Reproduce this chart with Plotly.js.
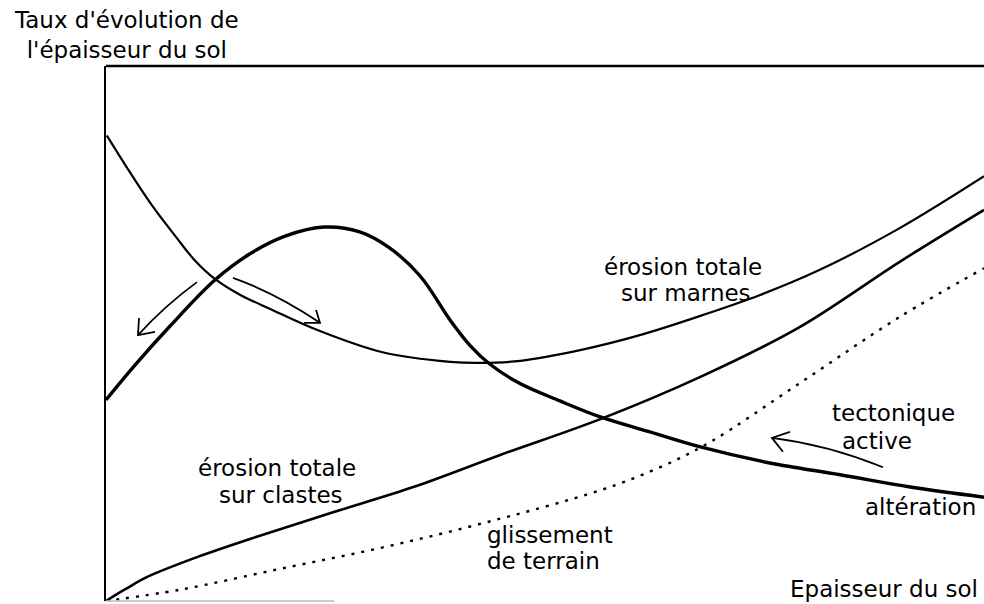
<!DOCTYPE html>
<html>
<head>
<meta charset="utf-8">
<script src="https://cdn.plot.ly/plotly-3.0.1.min.js"></script>
<style>
html,body{margin:0;padding:0;background:#fff;}
#chart{width:984px;height:604px;}
</style>
</head>
<body>
<div id="chart"></div>
<script>
// Épaisseur du sol (unités relatives 0-100) et taux d'évolution (unités relatives 0-100)
const marnesX = [0.1, 2.7, 5.3, 7.9, 10.1, 12.4, 15.3, 18.7, 24.0, 31.5, 39.2, 42.6, 47.2, 54.0, 60.8, 67.7, 74.5, 81.3, 90.4, 100];
const marnesY = [87.0, 80.2, 73.8, 68.2, 63.7, 60.2, 57.2, 54.6, 50.7, 46.5, 44.7, 44.5, 44.9, 46.9, 49.7, 53.3, 57.2, 61.9, 69.7, 79.4];

const alterationX = [0, 3.3, 7.3, 12.4, 16.4, 20.4, 24.9, 28.9, 32.3, 35.8, 39.2, 41.5, 43.7, 47.1, 51.7, 56.3, 61.95, 67.7, 75.6, 83.6, 91.6, 100];
const alterationY = [37.6, 44.1, 51.4, 60.0, 64.9, 68.2, 69.9, 69.0, 66.0, 60.7, 52.5, 47.7, 44.3, 40.7, 37.4, 34.4, 31.6, 28.8, 25.8, 23.6, 21.3, 19.4];

const clastesX = [0, 2.2, 4.7, 10.7, 16.4, 25.5, 35.0, 44.9, 56.3, 67.7, 79.0, 90.4, 100];
const clastesY = [0, 2.2, 4.5, 8.4, 11.6, 16.4, 21.3, 27.3, 34.0, 41.9, 51.2, 63.4, 73.1];

const glissementX = [0, 8.4, 19.8, 31.2, 42.6, 56.3, 63.1, 68.8, 79.0, 90.4, 100];
const glissementY = [0, 2.1, 6.0, 9.9, 14.4, 20.7, 25.0, 29.7, 40.7, 53.1, 62.2];

const FONT = 'DejaVu Sans, Liberation Sans, Arial, sans-serif';
const FSIZE = 23;

const traces = [
  {x: marnesX, y: marnesY, mode: 'lines', line: {color: '#000', width: 2.2, shape: 'spline', smoothing: 1}, hoverinfo: 'skip'},
  {x: alterationX, y: alterationY, mode: 'lines', line: {color: '#000', width: 3.4, shape: 'spline', smoothing: 1}, hoverinfo: 'skip'},
  {x: clastesX, y: clastesY, mode: 'lines', line: {color: '#000', width: 2.6, shape: 'spline', smoothing: 1}, hoverinfo: 'skip'},
  {x: glissementX, y: glissementY, mode: 'lines', line: {color: '#000', width: 2.4, dash: '3px,7px', shape: 'spline', smoothing: 1}, hoverinfo: 'skip'}
];

const ann = (text, x, y, xanchor) => ({
  text: text, x: x, y: y, xref: 'x', yref: 'y', xanchor: xanchor, yanchor: 'middle',
  showarrow: false, font: {family: FONT, size: FSIZE, color: '#000'}
});

const layout = {
  width: 984, height: 604,
  margin: {l: 106, r: 0, t: 66, b: 3, pad: 0},
  paper_bgcolor: '#fff', plot_bgcolor: '#fff',
  showlegend: false,
  xaxis: {range: [0, 100], showgrid: false, zeroline: false, showticklabels: false, ticks: '', showline: false, fixedrange: true},
  yaxis: {range: [0, 100], showgrid: false, zeroline: false, showticklabels: false, ticks: '', showline: true, linecolor: '#000', linewidth: 2.2, fixedrange: true},
  shapes: [
    {type: 'line', xref: 'paper', yref: 'paper', x0: 0, x1: 1, y0: 1, y1: 1, line: {color: '#000', width: 2.6}},
    {type: 'line', xref: 'paper', yref: 'paper', x0: 0, x1: 0.26, y0: 0, y1: 0, line: {color: '#bbb', width: 1.5}},
    {type: 'path', xref: 'x', yref: 'y', path: 'M10.36,59.6 Q6.7,55.2 3.64,49.7', line: {color: '#000', width: 1.8}},
    {type: 'path', xref: 'x', yref: 'y', path: 'M5.58,50.3 L3.64,49.7 L3.76,52.9', line: {color: '#000', width: 1.8}},
    {type: 'path', xref: 'x', yref: 'y', path: 'M14.46,60.4 Q19.4,57.5 24.37,52.0', line: {color: '#000', width: 1.8}},
    {type: 'path', xref: 'x', yref: 'y', path: 'M22.55,52.0 L24.37,52.0 L23.92,54.4', line: {color: '#000', width: 1.8}},
    {type: 'path', xref: 'x', yref: 'y', path: 'M88.5,25.0 Q82.2,29.2 75.85,30.5', line: {color: '#000', width: 1.8}},
    {type: 'path', xref: 'x', yref: 'y', path: 'M77.9,31.6 L75.85,30.5 L77.1,27.9', line: {color: '#000', width: 1.8}}
  ],
  annotations: [
    {text: "Taux d'évolution de<br>l'épaisseur du sol", x: 0.0239, y: 1.0581, xref: 'paper', yref: 'paper',
     xanchor: 'center', yanchor: 'middle', align: 'center', showarrow: false,
     font: {family: FONT, size: FSIZE, color: '#000'}},
    ann('érosion totale', 65.7, 62.4, 'center'),
    ann('sur marnes', 66.1, 57.6, 'center'),
    ann('érosion totale', 19.5, 24.9, 'center'),
    ann('sur clastes', 19.9, 19.8, 'center'),
    ann('glissement', 43.2, 12.3, 'left'),
    ann('de terrain', 43.2, 7.5, 'left'),
    ann('tectonique', 82.5, 35.1, 'left'),
    ann('active', 83.6, 29.9, 'left'),
    ann('altération', 99.3, 17.6, 'right'),
    ann('Epaisseur du sol', 99.5, 2.3, 'right')
  ]
};

Plotly.newPlot('chart', traces, layout, {staticPlot: true, displayModeBar: false});
</script>
</body>
</html>
